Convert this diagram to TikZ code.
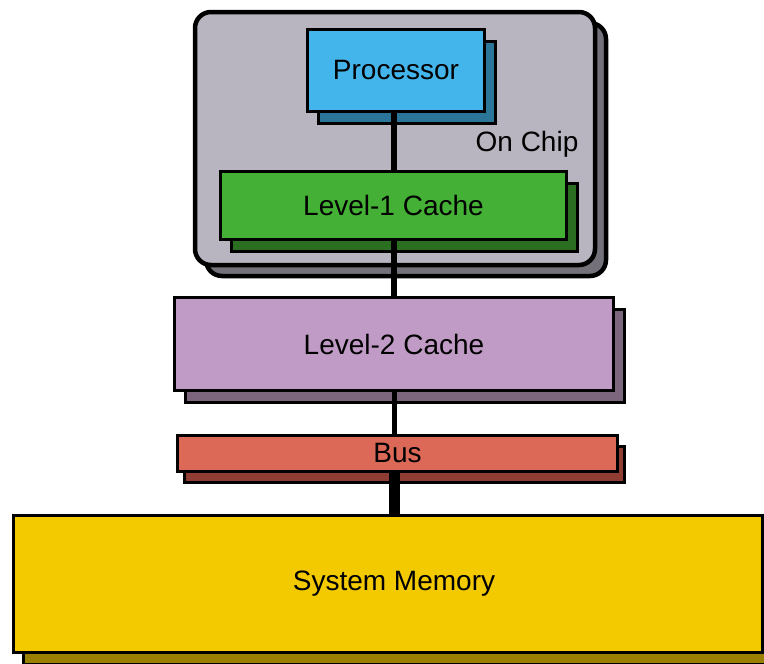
\documentclass[tikz,border=0pt]{standalone}
\usepackage{fontspec}
\setmainfont{Liberation Sans}
\usetikzlibrary{shadows}
\definecolor{chipC}{HTML}{B8B4C0}
\definecolor{chipS}{HTML}{75717A}
\definecolor{procC}{HTML}{44B5EA}
\definecolor{procS}{HTML}{2B7599}
\definecolor{lOneC}{HTML}{44B035}
\definecolor{lOneS}{HTML}{2B6E21}
\definecolor{lTwoC}{HTML}{C09BC5}
\definecolor{lTwoS}{HTML}{7B667D}
\definecolor{busC}{HTML}{DC6857}
\definecolor{busS}{HTML}{8F3D33}
\definecolor{memC}{HTML}{F3C900}
\definecolor{memS}{HTML}{9A7F00}
\begin{document}
\begin{tikzpicture}[x=1pt,y=-1pt,
  label text/.style={font=\fontsize{28}{33}\selectfont, text=black},
  box/.style={draw=black, line width=3.5pt, inner sep=0pt, outer sep=0pt, label text},
  boxshadow/.style={general shadow={fill=#1, draw=black, line width=3.5pt,
      shadow xshift=11pt, shadow yshift=-12pt}},
  link/.style={draw=black, line cap=butt}]
\useasboundingbox (0,0) rectangle (764,664);

% on-chip enclosure
\node[box, line width=4.5pt, rounded corners=16pt, fill=chipC,
      general shadow={fill=chipS, draw=black, line width=4.5pt,
      shadow xshift=11pt, shadow yshift=-11pt},
      minimum width=400pt, minimum height=253pt] (chip) at (395,138.5) {};
\node[label text, inner sep=0pt] (onchip) at (527,144) {On Chip};

% memory hierarchy blocks
\node[box, fill=procC, boxshadow=procS, minimum width=177pt, minimum height=82pt]
  (proc) at (396,70.5) {\raisebox{-2.5pt}{Processor}};
\node[box, fill=lOneC, boxshadow=lOneS, minimum width=346pt, minimum height=68pt]
  (lone) at (393.5,205.5) {Level-1 Cache};
\node[box, fill=lTwoC, boxshadow=lTwoS, minimum width=439pt, minimum height=93pt]
  (ltwo) at (394,344) {\raisebox{-2.5pt}{Level-2 Cache}};
\node[box, fill=busC, general shadow={fill=busS, draw=black, line width=3.5pt,
      shadow xshift=7pt, shadow yshift=-11pt},
      minimum width=440pt, minimum height=36pt]
  (bus) at (397.5,453.5) {Bus};
\node[box, line width=3pt, fill=memC,
      general shadow={fill=memS, draw=black, line width=3pt,
      shadow xshift=10pt, shadow yshift=-12pt},
      minimum width=749pt, minimum height=137pt] (mem) at (387.5,584) {};

% vertical data path
\coordinate (spine) at (394,0);
\node[label text, inner sep=0pt] (memlabel) at (mem.center -| spine) {System Memory};
\draw[link, line width=6pt] (proc.south -| spine) -- (lone.north -| spine);
\draw[link, line width=6pt] (lone.south -| spine) -- (ltwo.north -| spine);
\draw[link, line width=5pt] (ltwo.south -| spine) -- (bus.north -| spine);
\draw[link, line width=11pt] (bus.south -| spine) -- (mem.north -| spine);
\end{tikzpicture}
\end{document}
